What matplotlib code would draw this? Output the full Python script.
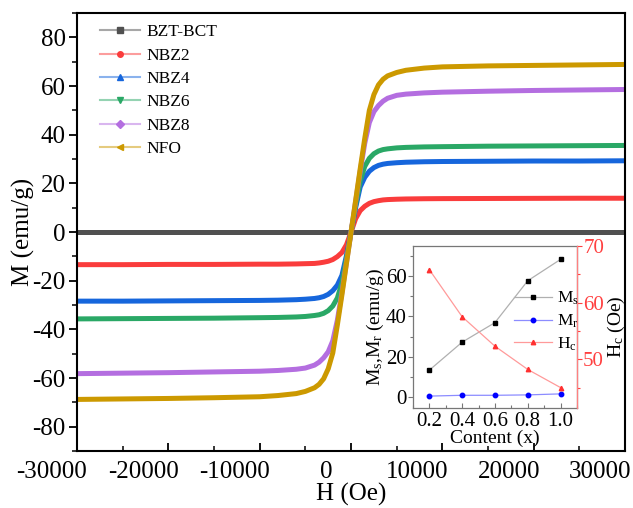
import matplotlib
matplotlib.use('Agg')
import matplotlib.pyplot as plt
import matplotlib.transforms as mtransforms
from matplotlib.colors import to_rgba
from matplotlib.lines import Line2D
from matplotlib.ticker import MultipleLocator

plt.rcParams['font.family'] = ['Liberation Serif', 'DejaVu Serif']
plt.rcParams['mathtext.fontset'] = 'custom'
plt.rcParams['mathtext.rm'] = 'Liberation Serif'
plt.rcParams['mathtext.it'] = 'Liberation Serif:italic'
plt.rcParams['axes.unicode_minus'] = False

# M-H loops
H = [-30000, -25000, -20000, -15000, -10000, -8000, -6000, -5000, -4000, -3500,
     -3000, -2500, -2000, -1500, -1000, -500, 0, 500, 1000, 1500, 2000, 2500,
     3000, 3500, 4000, 5000, 6000, 8000, 10000, 15000, 20000, 25000, 30000]

M_bzt = [0.0] * 33
M_nbz2 = [-13.4, -13.4, -13.3, -13.3, -13.2, -13.2, -13.1, -13.0, -12.9, -12.7,
          -12.4, -12.0, -11.3, -10.1, -8.4, -5.2, 0.0, 5.5, 8.8, 10.6, 11.8, 12.5,
          12.9, 13.2, 13.35, 13.5, 13.6, 13.7, 13.75, 13.8, 13.85, 13.9, 13.9]
M_nbz4 = [-28.4, -28.4, -28.3, -28.2, -28.1, -28.0, -27.8, -27.6, -27.3, -27.0,
          -26.5, -25.6, -24.1, -21.8, -17.8, -9.6, 0.0, 10.0, 18.5, 22.5, 25.0, 26.5,
          27.4, 27.9, 28.2, 28.5, 28.7, 28.9, 29.0, 29.1, 29.2, 29.2, 29.3]
M_nbz6 = [-35.7, -35.6, -35.5, -35.4, -35.2, -35.1, -34.9, -34.7, -34.3, -34.0,
          -33.4, -32.3, -30.4, -27.1, -20.9, -10.8, 0.0, 11.0, 21.0, 27.0, 30.3, 32.2,
          33.3, 33.9, 34.2, 34.6, 34.8, 35.0, 35.1, 35.3, 35.4, 35.5, 35.6]
M_nbz8 = [-58.2, -58.0, -57.8, -57.5, -57.2, -56.9, -56.4, -55.9, -54.7, -53.5,
          -51.7, -49.2, -44.7, -36.2, -24.8, -12.4, 0.0, 12.5, 25.0, 36.5, 45.0, 49.5,
          52.0, 53.8, 55.0, 56.2, 56.7, 57.2, 57.5, 57.9, 58.2, 58.4, 58.6]
M_nfo = [-68.8, -68.6, -68.4, -68.1, -67.7, -67.2, -66.4, -65.5, -64.0, -62.6,
         -60.3, -56.2, -49.7, -38.2, -25.8, -12.8, 0.0, 13.0, 26.0, 38.5, 50.0, 56.5,
         60.5, 62.8, 64.2, 65.6, 66.5, 67.4, 67.9, 68.3, 68.5, 68.7, 68.9]

names = ['BZT-BCT', 'NBZ2', 'NBZ4', 'NBZ6', 'NBZ8', 'NFO']
series = [M_bzt, M_nbz2, M_nbz4, M_nbz6, M_nbz8, M_nfo]
colors = ['#505050', '#fa3c3c', '#1666dc', '#2aa866', '#b46ee0', '#cc9900']
markers = ['s', 'o', '^', 'v', 'D', '<']

# inset data
content = [0.2, 0.4, 0.6, 0.8, 1.0]
Ms = [13.3, 27.2, 36.9, 57.7, 68.3]
Mr = [0.4, 0.8, 0.8, 1.0, 1.5]
Hc = [65.8, 57.5, 52.3, 48.2, 45.0]

fig = plt.figure(figsize=(6.33, 5.08), dpi=100)
ax = fig.add_axes([0.1216, 0.1122, 0.866, 0.862])

for m, c in zip(series, colors):
    ax.plot(H, m, color=c, lw=3.6, solid_capstyle='butt')

ax.set_xlim(-30000, 30000)
ax.set_ylim(-90, 90)
ax.xaxis.set_major_locator(MultipleLocator(10000))
ax.xaxis.set_minor_locator(MultipleLocator(5000))
ax.yaxis.set_major_locator(MultipleLocator(20))
ax.yaxis.set_minor_locator(MultipleLocator(10))
ax.tick_params(axis='x', which='both', direction='in', labelsize=18, pad=7)
ax.tick_params(axis='x', which='major', length=6, width=1.3)
ax.tick_params(axis='x', which='minor', length=3.5, width=1.1)
ax.tick_params(axis='y', which='both', direction='out', labelsize=18, pad=2)
ax.tick_params(axis='y', which='major', length=6, width=1.3)
ax.tick_params(axis='y', which='minor', length=3.5, width=1.1)
for s in ax.spines.values():
    s.set_linewidth(1.5)
ax.set_xlabel('H (Oe)', fontsize=18, labelpad=0)
ax.set_ylabel('M (emu/g)', fontsize=18, labelpad=-2)

handles = [Line2D([], [], color=to_rgba(c, 0.5), lw=1.5, marker=mk, markersize=4,
                  markerfacecolor=c, markeredgecolor=c)
           for c, mk in zip(colors, markers)]
ax.legend(handles, names, loc='upper left', frameon=False, fontsize=12.5,
          bbox_to_anchor=(100 / 633, (508 - 24) / 508),
          bbox_transform=fig.transFigure, borderpad=0, borderaxespad=0,
          handlelength=2.3, handletextpad=0.4, labelspacing=0.42)

# inset
ins = fig.add_axes([0.6524, 0.1969, 0.259, 0.319])
ins.plot(content, Ms, color='#b0b0b0', lw=0.9, marker='s', markersize=3.2,
         markerfacecolor='black', markeredgecolor='black', label=r'M$_\mathrm{s}$')
ins.plot(content, Mr, color='#8c8cff', lw=0.9, marker='o', markersize=3.2,
         markerfacecolor='blue', markeredgecolor='blue', label=r'M$_\mathrm{r}$')
ins.set_xlim(0.1, 1.1)
ins.set_ylim(-5.5, 75)
ins.xaxis.set_major_locator(MultipleLocator(0.2))
ins.xaxis.set_minor_locator(MultipleLocator(0.1))
ins.yaxis.set_major_locator(MultipleLocator(20))
ins.yaxis.set_minor_locator(MultipleLocator(10))
ins.tick_params(axis='x', which='both', direction='in', labelsize=15, pad=3)
ins.tick_params(axis='y', which='both', direction='out', labelsize=15, pad=1)
ins.tick_params(which='major', length=3.5, width=0.8, color='#777777')
ins.tick_params(which='minor', length=2, width=0.8, color='#777777')
ins.set_xlabel('Content (x)', fontsize=14, labelpad=-1)
ins.set_ylabel(r'M$_\mathrm{s}$,M$_\mathrm{r}$ (emu/g)', fontsize=14, labelpad=0)
for s in ins.spines.values():
    s.set_color('#777777')
    s.set_linewidth(0.9)

ins2 = ins.twinx()
ins2.plot(content, Hc, color='#ff9a9a', lw=0.9, marker='^', markersize=3.2,
          markerfacecolor='#ff3030', markeredgecolor='#ff3030', label=r'H$_\mathrm{c}$')
ins2.set_ylim(41.4, 70)
ins2.yaxis.set_major_locator(MultipleLocator(10))
ins2.yaxis.set_minor_locator(MultipleLocator(5))
ins2.tick_params(axis='y', which='both', direction='out', labelsize=15, pad=1,
                 colors='#ff4040', width=0.8)
ins2.tick_params(axis='y', which='major', length=3.5)
ins2.tick_params(axis='y', which='minor', length=2)
ins2.spines['right'].set_color('#ff8080')
ins2.spines['right'].set_linewidth(0.9)
for k in ('left', 'top', 'bottom'):
    ins2.spines[k].set_visible(False)
ins2.set_ylabel(r'H$_\mathrm{c}$ (Oe)', fontsize=14, labelpad=1)

h1, l1 = ins.get_legend_handles_labels()
h2, l2 = ins2.get_legend_handles_labels()
ins2.legend(h1 + h2, l1 + l2, loc='upper left', frameon=False, fontsize=12.5,
            bbox_to_anchor=(514 / 633, (508 - 290) / 508),
            bbox_transform=fig.transFigure, borderpad=0, borderaxespad=0,
            handlelength=2.2, handletextpad=0.3, labelspacing=0.3)

# tick labels sit a bit left of their ticks in the original
fig.canvas.draw()
shift = mtransforms.ScaledTranslation(-0.25, 0, fig.dpi_scale_trans)
for lab in ax.get_xticklabels():
    lab.set_transform(lab.get_transform() + shift)

fig.savefig('out.png', dpi=100)
